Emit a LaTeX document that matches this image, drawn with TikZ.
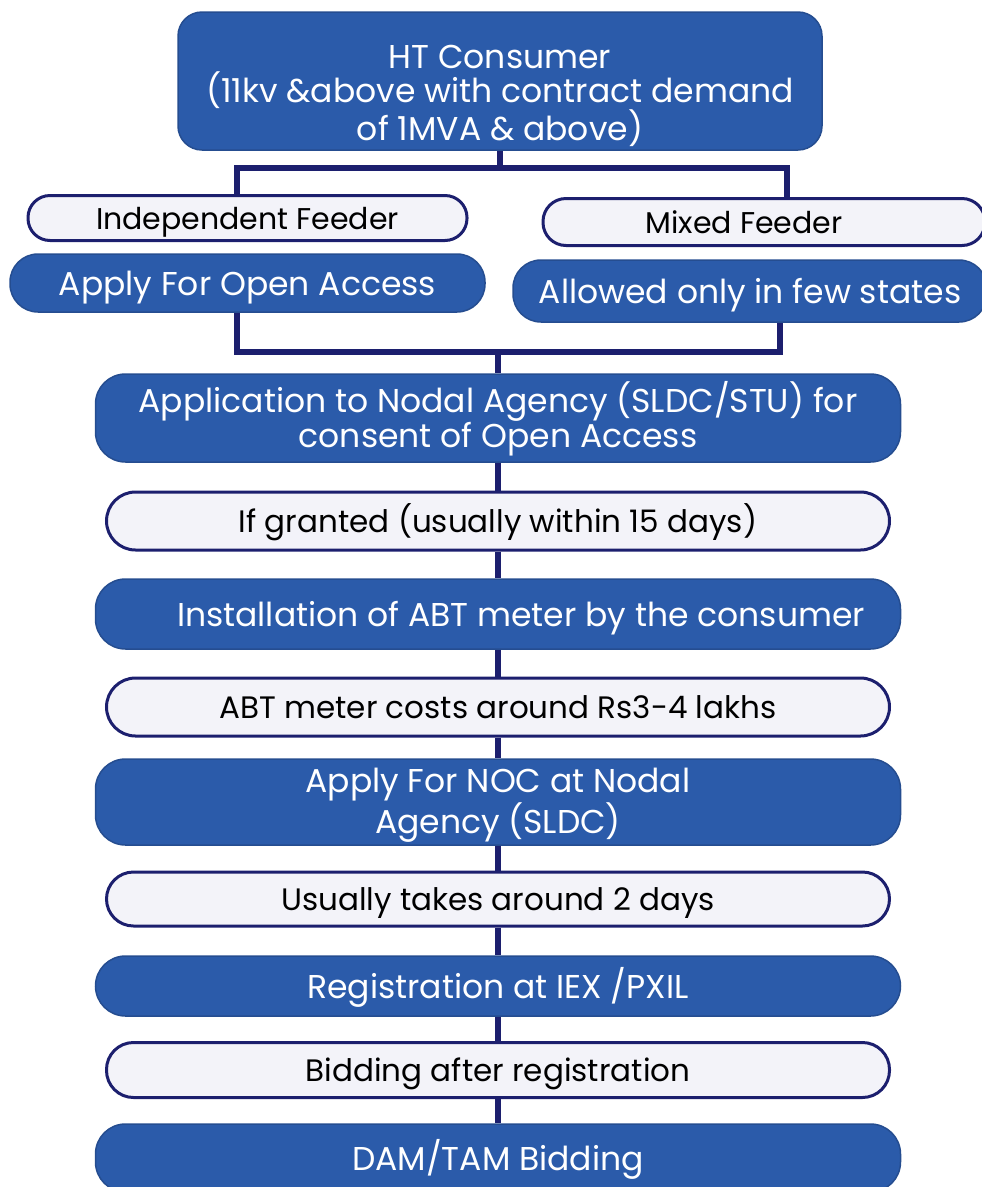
\documentclass[tikz,border=0pt]{standalone}
\usepackage{fontspec}
\setmainfont{Poppins}
\definecolor{boxblue}{HTML}{2B5BAA}
\definecolor{navy}{HTML}{1C1F6E}
\definecolor{pale}{HTML}{F3F3F9}
\begin{document}
\begin{tikzpicture}[x=1pt,y=-1pt,
  bluebox/.style={fill=boxblue, draw=boxblue!85!black, line width=1.5pt, rounded corners=24pt,
    text=white, align=center, inner sep=0pt, font=\fontsize{33}{35}\selectfont},
  palebox/.style={fill=pale, draw=navy, line width=3pt, rounded corners=27pt,
    text=black, align=center, inner sep=0pt, font=\fontsize{31}{35}\selectfont},
  oneline/.style={text height=#1, text depth=0pt},
  oneline/.default=24pt,
  link/.style={draw=navy, line width=6pt, line join=miter}]
\useasboundingbox (0,0) rectangle (982,1187);

\node[bluebox, minimum width=644pt, minimum height=138pt, font=\fontsize{33}{34}\selectfont] (top) at (500,81)
  {\rule{0pt}{53pt}HT Consumer\\(11kv \&above with contract demand\\of 1MVA \& above)};
\node[palebox, oneline=22pt, minimum width=439pt, minimum height=45pt, rounded corners=22pt, font=\fontsize{30}{36}\selectfont] (indep) at (247.5,218) {Independent Feeder};
\node[palebox, oneline=22pt, minimum width=442pt, minimum height=47pt, rounded corners=23pt, font=\fontsize{30}{36}\selectfont] (mixed) at (764,222) {\hspace*{-40pt}Mixed Feeder};
\node[bluebox, oneline, minimum width=475pt, minimum height=58pt, rounded corners=28pt] (applyoa) at (247.5,283) {Apply For Open Access};
\node[bluebox, oneline, minimum width=474pt, minimum height=62pt, rounded corners=28pt] (allowed) at (750,291) {Allowed only in few states};

\node[bluebox, minimum width=805pt, minimum height=88pt, rounded corners=30pt] (app) at (498,418)
  {\rule{0pt}{32pt}Application to Nodal Agency (SLDC/STU) for\\consent of Open Access};
\node[palebox, oneline=23pt, minimum width=783pt, minimum height=58pt, rounded corners=29pt] (grant) at (498,521) {If granted (usually within 15 days)};
\node[bluebox, oneline, minimum width=805pt, minimum height=70pt, rounded corners=30pt] (inst) at (498,614) {\hspace*{46pt}Installation of ABT meter by the consumer};
\node[palebox, oneline=23pt, minimum width=783pt, minimum height=58pt, rounded corners=29pt] (abt) at (498,707) {ABT meter costs around Rs3-4 lakhs};
\node[bluebox, minimum width=805pt, minimum height=86pt, rounded corners=30pt, font=\fontsize{33}{34}\selectfont] (noc) at (498,802)
  {\rule{0pt}{31pt}Apply For NOC at Nodal\\Agency (SLDC)};
\node[palebox, oneline=23pt, minimum width=783pt, minimum height=54pt, rounded corners=27pt] (usual) at (498,899) {Usually takes around 2 days};
\node[bluebox, oneline, minimum width=805pt, minimum height=60pt, rounded corners=30pt] (reg) at (498,986) {Registration at IEX /PXIL};
\node[palebox, oneline=23pt, minimum width=783pt, minimum height=55pt, rounded corners=27pt] (bid) at (498,1070) {Bidding after registration};
\node[bluebox, oneline, minimum width=805pt, minimum height=68pt, rounded corners=30pt] (dam) at (498,1158) {DAM/TAM Bidding};

\coordinate (t1) at (237,168);
\coordinate (t2) at (787,168);
\coordinate (b1) at (237,352);
\coordinate (b2) at (780,352);

\draw[link] (top.south) -- (top.south |- t1);
\draw[link] (indep.north -| t1) -- (t1) -- (t2) -- (mixed.north -| t2);
\draw[link] (applyoa.south -| b1) -- (b1) -- (b2) -- (allowed.south -| b2);
\draw[link] (app.north |- b1) -- (app.north);
\draw[link] (app.south) -- (grant.north);
\draw[link] (grant.south) -- (inst.north);
\draw[link] (inst.south) -- (abt.north);
\draw[link] (abt.south) -- (noc.north);
\draw[link] (noc.south) -- (usual.north);
\draw[link] (usual.south) -- (reg.north);
\draw[link] (reg.south) -- (bid.north);
\draw[link] (bid.south) -- (dam.north);
\end{tikzpicture}
\end{document}
